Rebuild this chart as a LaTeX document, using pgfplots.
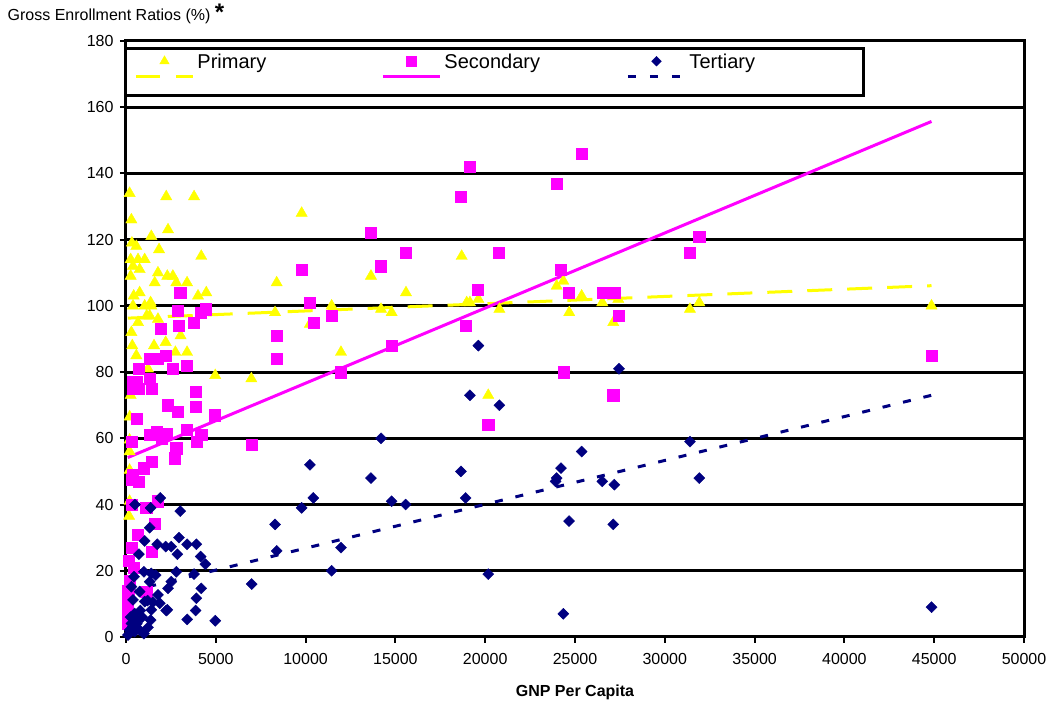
\documentclass[border=0pt]{standalone}
\usepackage{fontspec}
\setmainfont{Liberation Sans}
\usepackage{pgfplots}
\pgfplotsset{compat=1.18}
\definecolor{prim}{HTML}{FFFF00}
\definecolor{sec}{HTML}{FF00FF}
\definecolor{tert}{HTML}{000080}

\begin{document}
\begin{tikzpicture}
\useasboundingbox (-126pt,-64pt) rectangle (927pt,637pt);
\begin{axis}[
    name=ax, at={(0,0)}, anchor=south west,
    scale only axis, width=898pt, height=596pt,
    xmin=0, xmax=50000, ymin=0, ymax=180,
    xtick={0,5000,...,50000}, ytick={0,20,...,180},
    scaled x ticks=false,
    /pgf/number format/assume math mode=true,
    xticklabel style={/pgf/number format/1000 sep={}, yshift=-7pt},
    yticklabel style={xshift=-3pt},
    tick label style={font=\fontsize{16}{19}\selectfont},
    tick pos=left, tick align=outside, major tick length=6pt,
    tick style={black, line width=2pt},
    axis line style={black, line width=3pt},
    ymajorgrids, grid style={black, line width=3pt},
    clip=false,
    legend columns=3,
    legend style={at={(rel axis cs:0,1)}, anchor=north west, xshift=-1.5pt, yshift=-6.5pt,
        draw=black, line width=3pt, fill=white, inner xsep=8.5pt, inner ysep=5pt,
        font=\fontsize{20}{24}\selectfont, column sep=3pt,
        nodes={inner sep=0pt, text depth=0pt}, cells={anchor=west}},
]
% Primary
\addplot[only marks, mark=triangle*, mark size=6.5pt, color=prim,
  legend image code/.code={
    \draw[prim, line width=3pt, dash pattern=on 24pt off 16pt] (0pt,-15pt) -- (57pt,-15pt);
    \path (0pt,-28pt);
    \draw[color=prim, line width=0.4pt, mark size=5.5pt] plot[only marks, mark=triangle*] coordinates {(28.5pt,0pt)};
  }] coordinates {
(200,134) (2240,133) (3790,133) (300,126) (2340,123) (1410,121) (330,119) (575,118)
(1840,117) (4190,115) (260,114) (670,114) (1040,114) (390,112) (760,111) (260,109)
(1780,110) (2300,109) (2610,109) (3400,107) (1600,107) (2800,107) (430,103) (760,104)
(4470,104) (4010,103) (1370,101) (390,100) (1040,100) (1410,100) (1150,97) (1320,97)
(1780,96) (670,95) (300,92) (3040,91) (350,88) (1560,88) (2210,89) (2750,86) (3400,86)
(575,85) (1225,81) (4970,79) (6980,78) (260,73) (205,66.5) (200,59.5) (200,56) (200,50.4)
(200,41) (170,36.5)
(9780,128) (8390,107) (8300,98) (13640,109) (18690,115) (15590,104) (11450,100) (14200,99)
(14790,98) (10240,94.5) (11970,86) (18970,101) (19150,101) (19620,102) (20790,99) (20170,73)
(23980,106) (24350,107.5) (24680,98) (25370,103) (26520,101) (27410,102) (27130,95)
(31400,99) (31920,101) (44850,100)
};
\addlegendentry{\makebox[181pt][l]{Primary}}
% Secondary
\addplot[only marks, mark=square*, mark size=5.6pt, color=sec,
  legend image code/.code={
    \draw[sec, line width=3pt] (0pt,-15pt) -- (57pt,-15pt);
    \path (0pt,-28pt);
    \draw[color=sec, line width=0.4pt, mark size=4.8pt] plot[only marks, mark=square*] coordinates {(28.5pt,0pt)};
  }] coordinates {
(3020,104) (2900,98.5) (4420,99) (4160,98) (2950,94) (3770,95) (1930,93) (1320,84) (1740,84)
(2190,85) (2610,81) (3400,82) (700,81) (575,77) (1320,78) (1410,75) (700,75) (390,77) (390,75)
(3860,74) (2340,70) (3870,69.5) (575,66) (2900,68) (4940,67) (1320,61) (1690,62) (2240,61.5)
(1970,60) (3360,62.5) (4190,61) (3920,59) (6980,58) (2800,57) (2710,54) (300,59) (1410,53)
(1000,51) (390,49) (700,47) (300,47.4) (300,40) (1130,39) (1780,41) (1600,34.3) (670,31)
(330,27) (1410,25.8) (445,21) (150,23) (200,17) (120,14) (110,12) (75,9) (110,6) (90,4) (1130,13.7)
(19150,142) (18650,133) (23980,137) (13640,122) (15570,116) (20770,116) (14200,112) (9780,111)
(24220,111) (19580,105) (24670,104) (10240,101) (10430,95) (11450,97) (18910,94) (8390,91)
(8390,84) (14790,88) (11970,80) (24350,80) (25370,146) (20170,64) (31920,121) (31400,116)
(26520,104) (27190,104) (27450,97) (27130,73) (44850,85)
};
\addlegendentry{\makebox[179pt][l]{Secondary}}
% Tertiary
\addplot[only marks, mark=square*, mark size=3.9pt, mark options={rotate=45}, color=tert,
  legend image code/.code={
    \draw[tert, line width=3pt, dash pattern=on 8pt off 14pt] (0pt,-15pt) -- (57pt,-15pt);
    \path (0pt,-28pt);
    \draw[color=tert, line width=0.4pt, mark size=3.5pt] plot[only marks, mark=square*, mark options={rotate=45}] coordinates {(28.5pt,0pt)};
  }] coordinates {
(1910,42) (500,40) (1370,39) (3020,38) (1320,33) (1040,29) (2950,30) (1740,28) (2210,27.3)
(2520,27.3) (3400,28) (3920,28) (2860,25) (720,25) (4160,24.3) (4420,22) (1000,19.7)
(1410,19.2) (1650,18.7) (2800,19.7) (3790,19) (445,18.2) (1320,16.7) (2520,16.7) (2340,14.7)
(4190,14.7) (300,15.2) (760,13.7) (1780,12.7) (3920,11.7) (390,11.2) (1040,10.7) (1200,11)
(1500,10.5) (1880,10.2) (1410,8.2) (2240,8) (3880,8) (480,7.1) (800,8) (900,6) (3410,5.3)
(1370,5.1) (4970,4.9) (670,5.1) (1225,2.9) (300,4.1) (600,4) (250,6) (200,2.1) (480,1.6)
(110,0.6) (760,2.1) (390,3.1) (1000,1) (2300,8.2)
(7000,16) (8300,34) (8390,26) (10240,52) (10430,42) (9780,39) (14200,60) (13640,48) (14790,41)
(15570,40) (11970,27) (11450,20) (19150,73) (20790,70) (18650,50) (18910,42) (20170,19)
(24350,7) (24220,51) (23980,48) (23920,47) (24670,35) (25370,56) (19620,88) (26520,47)
(27190,46) (27130,34) (31400,59) (31920,48) (44850,9) (27450,81)
};
\addlegendentry{\makebox[165pt][l]{Tertiary}}
% trend lines
\addplot[forget plot, prim, line width=3pt, dash pattern=on 25pt off 15pt] coordinates {(100,96.3) (44850,106.1)};
\addplot[forget plot, sec, line width=3pt] coordinates {(100,54.2) (44850,155.7)};
\addplot[forget plot, tert, line width=3pt, dash pattern=on 8pt off 13pt] coordinates {(100,13.7) (44850,73)};
\end{axis}
\node[anchor=base west, inner sep=0pt, font=\fontsize{16}{19}\selectfont] at ([xshift=-118.5pt, yshift=20pt]ax.north west)
  {Gross Enrollment Ratios (\%) {\fontsize{24}{24}\bfseries *}};
\node[anchor=base, inner sep=0pt, font=\fontsize{16}{19}\selectfont\bfseries] at ([yshift=-60pt]ax.south) {GNP Per Capita};
\end{tikzpicture}
\end{document}
